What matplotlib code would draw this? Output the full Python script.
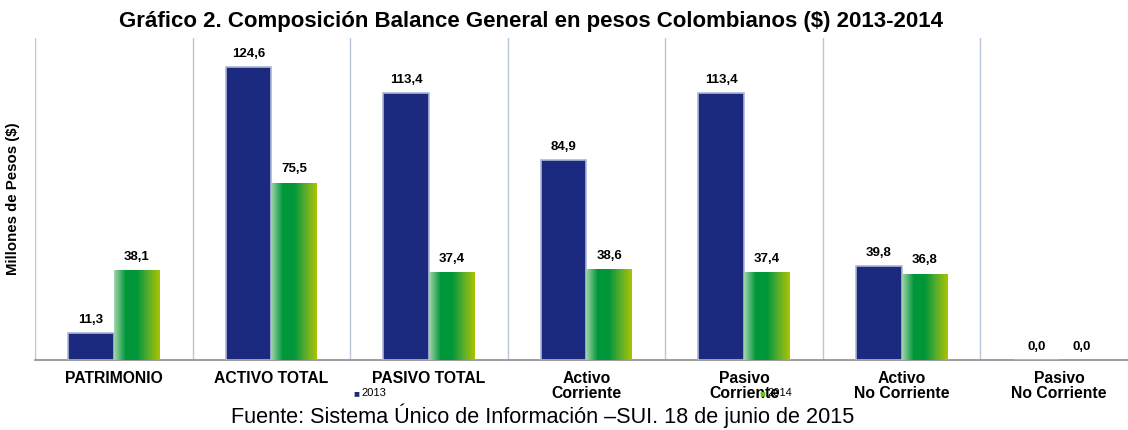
import numpy as np
import matplotlib
matplotlib.use("Agg")
import matplotlib.pyplot as plt
from matplotlib.colors import LinearSegmentedColormap
from matplotlib.patches import Rectangle

plt.rcParams['font.family'] = ['Liberation Sans', 'DejaVu Sans']

categories = ["PATRIMONIO", "ACTIVO TOTAL", "PASIVO TOTAL", "Activo\nCorriente",
              "Pasivo\nCorriente", "Activo\nNo Corriente", "Pasivo\nNo Corriente"]
v2013 = [11.3, 124.6, 113.4, 84.9, 113.4, 39.8, 0.0]
v2014 = [38.1, 75.5, 37.4, 38.6, 37.4, 36.8, 0.0]

fig = plt.figure(figsize=(11.28, 4.30), dpi=100)
ax = fig.add_axes([35 / 1128, 70 / 430, 1103 / 1128, 322 / 430])

x = np.arange(len(categories))
w = 0.29
blue = "#1b2a7e"
green_cmap = LinearSegmentedColormap.from_list(
    "g", ["#9fd3a8", "#00973a", "#00973a", "#58ad2e", "#a9c400"])

ax.bar(x - w / 2, v2013, w, color=blue, edgecolor="#aeb6d8", linewidth=1.2, zorder=3)
bars14 = ax.bar(x + w / 2, v2014, w, color="none", edgecolor="none", zorder=3)
grad = np.linspace(0, 1, 64).reshape(1, -1)
for b in bars14:
    if b.get_height() <= 0:
        continue
    x0, y0 = b.get_x(), b.get_y()
    im = ax.imshow(grad, cmap=green_cmap, aspect="auto", zorder=3,
                   extent=[x0, x0 + b.get_width(), y0, y0 + b.get_height()])
    im.set_clip_path(Rectangle((x0, y0), b.get_width(), b.get_height(),
                               transform=ax.transData))

fmt = lambda v: f"{v:.1f}".replace(".", ",")
for i in range(len(categories)):
    ax.text(x[i] - w / 2, v2013[i] + 3.0, fmt(v2013[i]), ha="center", va="bottom",
            fontsize=9.5, fontweight="bold")
    ax.text(x[i] + w / 2, v2014[i] + 3.0, fmt(v2014[i]), ha="center", va="bottom",
            fontsize=9.5, fontweight="bold")

ax.set_xlim(-0.5, len(categories) - 0.5)
ax.set_ylim(0, 137)
for s in np.arange(-0.5, len(categories), 1):
    ax.axvline(s, color="#b9c5d9", linewidth=1, zorder=1)
for side in ["top", "right", "left"]:
    ax.spines[side].set_visible(False)
ax.spines["bottom"].set_color("#8c8c8c")
ax.spines["bottom"].set_linewidth(1.2)
ax.set_yticks([])
ax.set_xticks(x)
ax.set_xticklabels(categories, fontsize=11.3, fontweight="bold", linespacing=1.0)
ax.tick_params(axis="x", length=0, pad=8)
ax.set_ylabel("Millones de Pesos ($)", fontsize=10.8, fontweight="bold")
ax.yaxis.set_label_coords(-0.014, 0.5)

fig.text(0.471, 0.951, "Gráfico 2. Composición Balance General en pesos Colombianos ($) 2013-2014",
         ha="center", va="center", fontsize=16, fontweight="bold")
fig.text(0.481, 0.033, "Fuente: Sistema Único de Información –SUI. 18 de junio de 2015",
         ha="center", va="center", fontsize=15.6)

# legend markers
fig.text(353 / 1128, 1 - 393 / 430, "■", color=blue, fontsize=7, ha="left", va="center")
fig.text(361 / 1128, 1 - 393 / 430, "2013", fontsize=8, ha="left", va="center")
fig.text(759 / 1128, 1 - 393 / 430, "■", color="#6dbb2a", fontsize=7, ha="left", va="center")
fig.text(767 / 1128, 1 - 393 / 430, "2014", fontsize=8, ha="left", va="center")

fig.savefig("out.png", dpi=100)
